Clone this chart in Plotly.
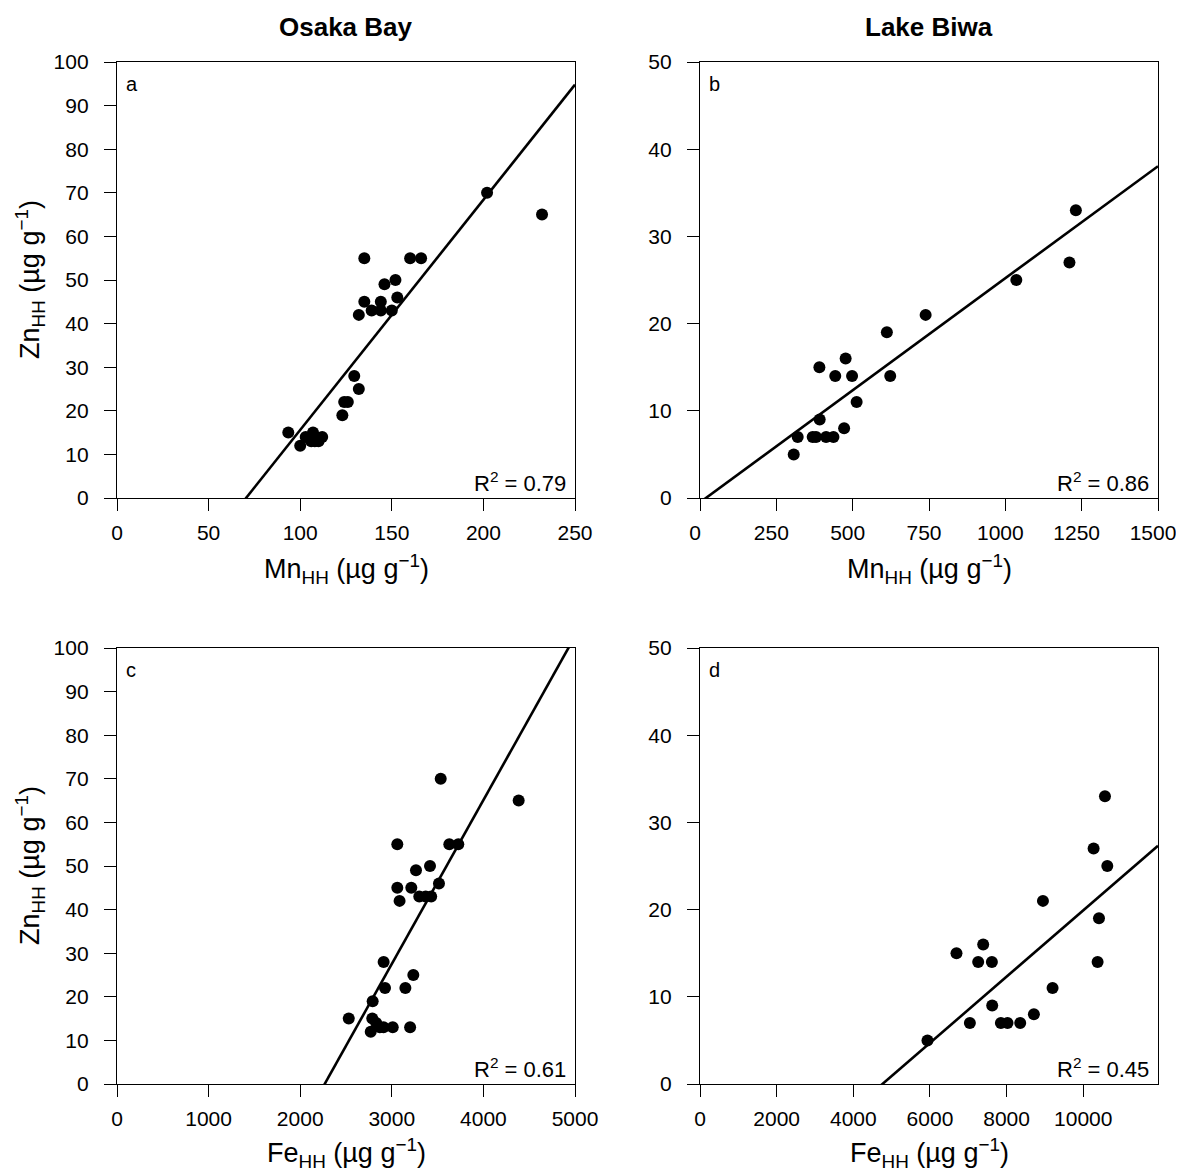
import plotly.graph_objects as go

# ---------------- data ----------------
# Osaka Bay
osaka_mn = [202, 232, 135, 160, 166, 152, 146, 153, 135, 144, 132, 139, 144, 150,
            129.5, 132, 124, 126, 123, 93.5, 100, 103, 107, 106, 108, 110, 112]
osaka_zn_mn = [70, 65, 55, 55, 55, 50, 49, 46, 45, 45, 42, 43, 43, 43,
               28, 25, 22, 22, 19, 15, 12, 14, 15, 13, 13, 13, 14]
osaka_fe = [3534, 4385, 3060, 3628, 3726, 3417, 3264, 3515, 3060, 3213, 3085, 3300, 3370, 3430,
            2911, 3235, 2926, 3148, 2791, 2530, 2787, 2830, 2770, 2870, 2910, 3010, 3200]
osaka_zn_fe = [70, 65, 55, 55, 55, 50, 49, 46, 45, 45, 42, 43, 43, 43,
               28, 25, 22, 22, 19, 15, 15, 14, 12, 13, 13, 13, 13]

# Lake Biwa
biwa_mn = [1231, 1210, 1036, 739, 612, 477, 391, 443, 498, 623, 513, 392, 472,
           320, 369, 380, 413, 437, 307]
biwa_zn_mn = [33, 27, 25, 21, 19, 16, 15, 14, 14, 14, 11, 9, 8, 7, 7, 7, 7, 7, 5]
biwa_fe = [10566, 10270, 10627, 8948, 10410, 6692, 7389, 7258, 7616, 10374, 9199,
           7624, 7041, 7851, 8024, 8355, 8712, 5935]
biwa_zn_fe = [33, 27, 25, 21, 19, 15, 16, 14, 14, 14, 11, 9, 7, 7, 7, 7, 8, 5]

# fitted regression lines (slope, intercept) and R^2
fit_slope = [0.528, 0.0257, 0.03758, 0.0038]
fit_intercept = [-37.2, -0.5, -85.2, -18.09]
r_squared = ["0.79", "0.86", "0.61", "0.45"]
panel_letters = ["a", "b", "c", "d"]
column_titles = ["Osaka Bay", "Lake Biwa"]

x_ranges = [[0, 250], [0, 1500], [0, 5000], [0, 11950]]
y_ranges = [[0, 100], [0, 50], [0, 100], [0, 50]]
x_dticks = [50, 250, 1000, 2000]
y_dticks = [10, 10, 10, 10]
x_titles = ["Mn<sub>HH</sub> (µg g<sup>−1</sup>)", "Mn<sub>HH</sub> (µg g<sup>−1</sup>)",
            "Fe<sub>HH</sub> (µg g<sup>−1</sup>)", "Fe<sub>HH</sub> (µg g<sup>−1</sup>)"]
y_title = "Zn<sub>HH</sub> (µg g<sup>−1</sup>)"

xs = [osaka_mn, biwa_mn, osaka_fe, biwa_fe]
ys = [osaka_zn_mn, biwa_zn_mn, osaka_zn_fe, biwa_zn_fe]

# ---------------- layout geometry (pixels) ----------------
OFF = 8  # page body margin
W, H = 1184 - OFF, 1171 - OFF
FONT = "Liberation Sans, Arial, sans-serif"
px_x = [(117, 575), (700, 1158), (117, 575), (700, 1158)]
px_y = [(62, 498), (62, 498), (648, 1084), (648, 1084)]
x_title_gap = [71, 71, 69, 69]
x_label_shift = [0, -5, 0, 0]


def fx(p):
    return (p - OFF) / W


def fy(p):
    return 1 - (p - OFF) / H


fig = go.Figure()
layout = dict(
    width=W, height=H,
    margin=dict(l=0, r=0, t=0, b=0),
    paper_bgcolor="white", plot_bgcolor="white",
    showlegend=False,
    font=dict(family=FONT, color="black"),
)
annotations = []

for i in range(4):
    ax = "" if i == 0 else str(i + 1)
    xa, ya = "x" + ax, "y" + ax
    x0, x1 = px_x[i]
    y0, y1 = px_y[i]
    axis_common = dict(
        showline=True, linecolor="black", linewidth=1.3, mirror=True,
        ticks="outside", ticklen=12, tickwidth=1.3, tickcolor="black",
        showgrid=False, zeroline=False,
        tickfont=dict(family=FONT, size=21, color="black"),
        automargin=False, tickformat="d", ticklabeloverflow="allow",
    )
    layout["xaxis" + ax] = dict(
        axis_common, domain=[fx(x0), fx(x1)], range=x_ranges[i],
        tick0=0, dtick=x_dticks[i], anchor=ya, ticklabelstandoff=4,
        ticklabelshift=x_label_shift[i],
    )
    layout["yaxis" + ax] = dict(
        axis_common, domain=[fy(y1), fy(y0)], range=y_ranges[i],
        tick0=0, dtick=y_dticks[i], anchor=xa, ticklabelstandoff=11,
    )
    # regression line across the x axis range
    lx = x_ranges[i]
    ly = [fit_slope[i] * v + fit_intercept[i] for v in lx]
    fig.add_trace(go.Scatter(x=lx, y=ly, mode="lines", xaxis=xa, yaxis=ya,
                             line=dict(color="black", width=2.6)))
    fig.add_trace(go.Scatter(x=xs[i], y=ys[i], mode="markers", xaxis=xa, yaxis=ya,
                             marker=dict(color="black", size=12, line=dict(width=0)),
                             cliponaxis=False))
    # panel letter
    annotations.append(dict(text=panel_letters[i], xref=xa + " domain", yref=ya + " domain",
                            x=0.015, y=0.98, xanchor="left", yanchor="top", showarrow=False,
                            font=dict(family=FONT, size=20, color="black")))
    # R^2
    annotations.append(dict(text="R<sup>2</sup> = " + r_squared[i], xref=xa + " domain",
                            yref=ya + " domain", x=0.985, y=0.0, xanchor="right",
                            yanchor="bottom", showarrow=False,
                            font=dict(family=FONT, size=22, color="black")))
    # x axis title
    annotations.append(dict(text=x_titles[i], xref="paper", yref="paper",
                            x=fx((x0 + x1) / 2), y=fy(y1 + x_title_gap[i]), xanchor="center",
                            yanchor="middle", showarrow=False,
                            font=dict(family=FONT, size=27, color="black")))
    # y axis title (left column only)
    if i % 2 == 0:
        annotations.append(dict(text=y_title, xref="paper", yref="paper",
                                x=fx(30), y=fy((y0 + y1) / 2), xanchor="center",
                                yanchor="middle", textangle=-90, showarrow=False,
                                font=dict(family=FONT, size=27, color="black")))

for j, t in enumerate(column_titles):
    x0, x1 = px_x[j]
    annotations.append(dict(text="<b>" + t + "</b>", xref="paper", yref="paper",
                            x=fx((x0 + x1) / 2), y=fy(27), xanchor="center",
                            yanchor="middle", showarrow=False,
                            font=dict(family=FONT, size=26, color="black")))

layout["annotations"] = annotations
fig.update_layout(**layout)
fig.write_html("out.html")
